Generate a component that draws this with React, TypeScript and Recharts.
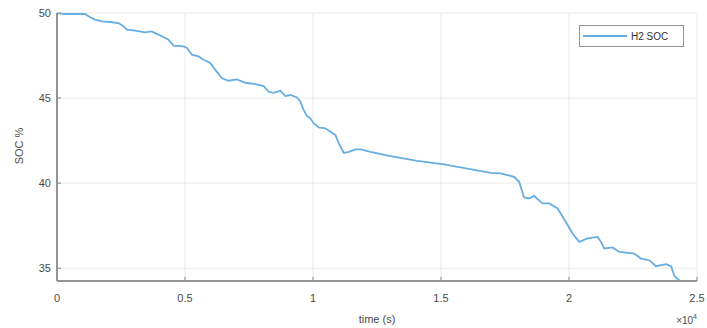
import { CartesianGrid, Customized, Legend, Line, LineChart, XAxis, YAxis } from 'recharts'

// time in seconds, SOC in percent
const timeS = [
  0, 313, 1096, 1291, 1487, 1749, 2074, 2399, 2594, 2727, 3052, 3443, 3706, 3835,
  4097, 4355, 4551, 4942, 5075, 5271, 5529, 5725, 5987, 6183, 6445, 6703, 7032,
  7356, 7748, 8073, 8268, 8464, 8726, 8922, 9117, 9380, 9509, 9638, 9771, 9900,
  10029, 10225, 10487, 10682, 10878, 11007, 11203, 11399, 11661, 11856, 12248,
  13030, 14075, 15116, 16032, 16943, 17335, 17855, 18051, 18246, 18442, 18638,
  18771, 18966, 19225, 19553, 19878, 20140, 20398, 20727, 21118, 21248, 21377,
  21705, 21964, 22551, 22813, 23138, 23400, 23791, 23987, 24116, 24312,
]
const socPct = [
  50, 49.94, 49.94, 49.75, 49.61, 49.51, 49.47, 49.41, 49.22, 49.02, 48.96, 48.86,
  48.92, 48.82, 48.63, 48.43, 48.08, 48.04, 47.94, 47.55, 47.45, 47.25, 47.06,
  46.66, 46.16, 46.02, 46.1, 45.9, 45.82, 45.71, 45.37, 45.31, 45.43, 45.12, 45.18,
  45.04, 44.78, 44.29, 43.94, 43.81, 43.51, 43.28, 43.22, 43.02, 42.82, 42.34,
  41.78, 41.84, 41.98, 41.98, 41.84, 41.59, 41.31, 41.1, 40.86, 40.61, 40.58,
  40.37, 40.08, 39.16, 39.1, 39.25, 39.06, 38.81, 38.81, 38.51, 37.72, 37.04,
  36.55, 36.75, 36.84, 36.55, 36.16, 36.22, 35.96, 35.86, 35.57, 35.47, 35.12,
  35.24, 35.12, 34.55, 34.28,
]
const xTicks = [0, 5000, 10000, 15000, 20000, 25000]
const yTicks = [35, 40, 45, 50]

const data = timeS.map((t, i) => ({ t, soc: socPct[i] }))

const FONT = '"Liberation Sans", Arial, sans-serif'
const AXIS = '#949494'
const TEXT = '#4a4a4a'
const BLUE = '#66aee2'

function BottomTick({ x, y, payload }: any) {
  return (
    <g>
      <line x1={x} y1={y} x2={x} y2={y - 4} stroke={AXIS} strokeWidth={1.2} />
      <text x={x} y={y + 21} textAnchor="middle" fill={TEXT} fontSize={11} fontFamily={FONT}>
        {String(payload.value / 10000)}
      </text>
    </g>
  )
}

function LeftTick({ x, y, payload }: any) {
  return (
    <g>
      <line x1={x} y1={y} x2={x + 4} y2={y} stroke={AXIS} strokeWidth={1.2} />
      <text x={x - 6} y={y + 4} textAnchor="end" fill={TEXT} fontSize={11} fontFamily={FONT}>
        {payload.value}
      </text>
    </g>
  )
}

function TopTick({ x, y }: any) {
  return <line x1={x} y1={y} x2={x} y2={y + 4} stroke={AXIS} strokeWidth={1.2} />
}

function RightTick({ x, y }: any) {
  return <line x1={x} y1={y} x2={x - 4} y2={y} stroke={AXIS} strokeWidth={1.2} />
}

function LegendBox({ payload }: any) {
  const item = payload && payload[0]
  return (
    <div
      style={{
        boxSizing: 'border-box',
        width: 105,
        height: 22,
        border: `1.5px solid ${AXIS}`,
        background: '#fff',
        display: 'flex',
        alignItems: 'center',
        paddingLeft: 3,
        fontFamily: FONT,
        fontSize: 10,
        color: '#333',
      }}
    >
      <span style={{ display: 'inline-block', width: 44, height: 2, background: BLUE, marginRight: 4 }} />
      <span>{item ? item.value : 'H2 SOC'}</span>
    </div>
  )
}

function AxisText() {
  return (
    <g fontFamily={FONT} fill={TEXT}>
      <text x={377} y={323} textAnchor="middle" fontSize={11}>
        time (s)
      </text>
      <text x={697} y={324} textAnchor="end" fontSize={10}>
        ×10
        <tspan dy={-5} fontSize={7}>
          4
        </tspan>
      </text>
      <text x={0} y={0} transform="translate(23, 146) rotate(-90)" textAnchor="middle" fontSize={11}>
        SOC %
      </text>
    </g>
  )
}

export default function App() {
  return (
    <div style={{ position: 'absolute', left: 0, top: 0, width: 707, height: 328, background: '#fff' }}>
      <LineChart
        width={707}
        height={328}
        data={data}
        margin={{ top: 13, right: 10, bottom: 0, left: 0 }}
        style={{ fontFamily: FONT }}
      >
        <CartesianGrid stroke="#ebebeb" strokeWidth={1} />
        <XAxis
          dataKey="t"
          type="number"
          domain={[0, 25000]}
          ticks={xTicks}
          allowDataOverflow
          height={47}
          stroke={AXIS}
          strokeWidth={2}
          tickSize={0}
          tickMargin={0}
          tickLine={false}
          tick={<BottomTick />}
          interval={0}
        />
        <XAxis
          xAxisId="top"
          orientation="top"
          dataKey="t"
          type="number"
          domain={[0, 25000]}
          ticks={xTicks}
          allowDataOverflow
          height={0}
          stroke={AXIS}
          strokeWidth={1.6}
          tickSize={0}
          tickMargin={0}
          tickLine={false}
          tick={<TopTick />}
          interval={0}
        />
        <YAxis
          type="number"
          domain={[34.25, 50]}
          ticks={yTicks}
          allowDataOverflow
          width={57}
          stroke={AXIS}
          strokeWidth={2}
          tickSize={0}
          tickMargin={0}
          tickLine={false}
          tick={<LeftTick />}
          interval={0}
        />
        <YAxis
          yAxisId="right"
          orientation="right"
          type="number"
          domain={[34.25, 50]}
          ticks={yTicks}
          allowDataOverflow
          width={0}
          stroke={AXIS}
          strokeWidth={2}
          tickSize={0}
          tickMargin={0}
          tickLine={false}
          tick={<RightTick />}
          interval={0}
        />
        <Line
          type="linear"
          dataKey="soc"
          name="H2 SOC"
          stroke={BLUE}
          strokeWidth={1.8}
          dot={false}
          isAnimationActive={false}
        />
        <Legend
          layout="horizontal"
          verticalAlign="middle"
          align="center"
          wrapperStyle={{ left: 579, top: 25, width: 105, height: 22 }}
          content={LegendBox}
        />
        <Customized component={AxisText} />
      </LineChart>
    </div>
  )
}
